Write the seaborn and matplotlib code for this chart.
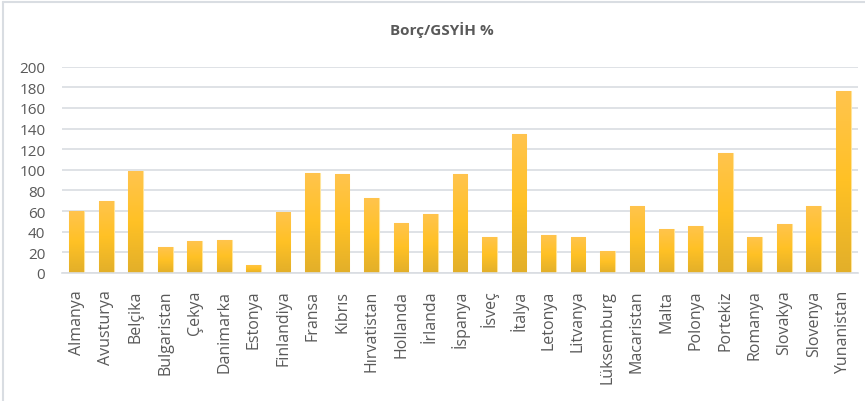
import numpy as np
import pandas as pd
import matplotlib
matplotlib.use("Agg")
import matplotlib.pyplot as plt
import seaborn as sns
from matplotlib.colors import LinearSegmentedColormap
from matplotlib.lines import Line2D

countries = ['Almanya', 'Avusturya', 'Belçika', 'Bulgaristan', 'Çekya', 'Danimarka',
             'Estonya', 'Finlandiya', 'Fransa', 'Kıbrıs', 'Hırvatistan', 'Hollanda',
             'İrlanda', 'İspanya', 'İsveç', 'İtalya', 'Letonya', 'Litvanya',
             'Lüksemburg', 'Macaristan', 'Malta', 'Polonya', 'Portekiz', 'Romanya',
             'Slovakya', 'Slovenya', 'Yunanistan']
debt_gdp = [59.8, 70.0, 98.7, 25.1, 30.8, 32.3,
            8.1, 59.5, 97.1, 95.5, 72.8, 48.5,
            57.6, 95.5, 35.0, 134.6, 36.6, 35.0,
            21.4, 65.4, 42.7, 45.6, 116.5, 35.0,
            47.3, 65.4, 176.7]
y_ticks = [0, 20, 40, 60, 80, 100, 120, 140, 160, 180, 200]

df = pd.DataFrame({'country': countries, 'value': debt_gdp})

sns.set_theme(style='white')
plt.rcParams['font.family'] = ['Open Sans', 'DejaVu Sans']
text_col = '#595959'
grid_col = '#D9DDE2'

fig = plt.figure(figsize=(8.65, 4.02), dpi=100)
ax = fig.add_axes([62 / 865, 1 - 274 / 402, (858 - 62) / 865, (274 - 67.7) / 402])

sns.barplot(data=df, x='country', y='value', color='#FFC12A', width=0.5,
            edgecolor='#FFE49A', linewidth=0.8, ax=ax, zorder=2)

# excel-like vertical gradient inside each bar
grad = LinearSegmentedColormap.from_list('g', ['#E2AF2A', '#FFC125', '#FFC44E'])
img = np.linspace(0, 1, 256).reshape(-1, 1)
for p in ax.patches:
    x0 = p.get_x()
    w = p.get_width()
    h = p.get_height()
    im = ax.imshow(img, cmap=grad, origin='lower', aspect='auto',
                   extent=[x0, x0 + w, 0, h], zorder=2.5)
    im.set_clip_path(p)

ax.set_xlim(-0.5, len(countries) - 0.5)
ax.set_ylim(0, 200)
ax.set_yticks(y_ticks)
ax.yaxis.grid(True, color=grid_col, linewidth=1.2)
ax.set_axisbelow(True)
for s in ['top', 'right', 'left']:
    ax.spines[s].set_visible(False)
ax.spines['bottom'].set_color(grid_col)
ax.spines['bottom'].set_linewidth(1.2)
ax.set_xlabel('')
ax.set_ylabel('')
ax.tick_params(axis='y', labelsize=11, colors=text_col, length=0, pad=12)
ax.tick_params(axis='x', labelsize=11.5, colors=text_col, length=0, pad=12)
plt.setp(ax.get_xticklabels(), rotation=90)

fig.text(0.511, 1 - 30 / 402, 'Borç/GSYİH %', ha='center', va='center',
         fontsize=11, fontweight='bold', color=text_col)

# chart border (left and top visible)
fig.add_artist(Line2D([3 / 865, 3 / 865], [0, 1 - 3 / 402], transform=fig.transFigure,
                      color='#D9DDE2', linewidth=1.5))
fig.add_artist(Line2D([3 / 865, 1], [1 - 3 / 402, 1 - 3 / 402], transform=fig.transFigure,
                      color='#D9DDE2', linewidth=1.5))

fig.savefig('out.png', dpi=100)
